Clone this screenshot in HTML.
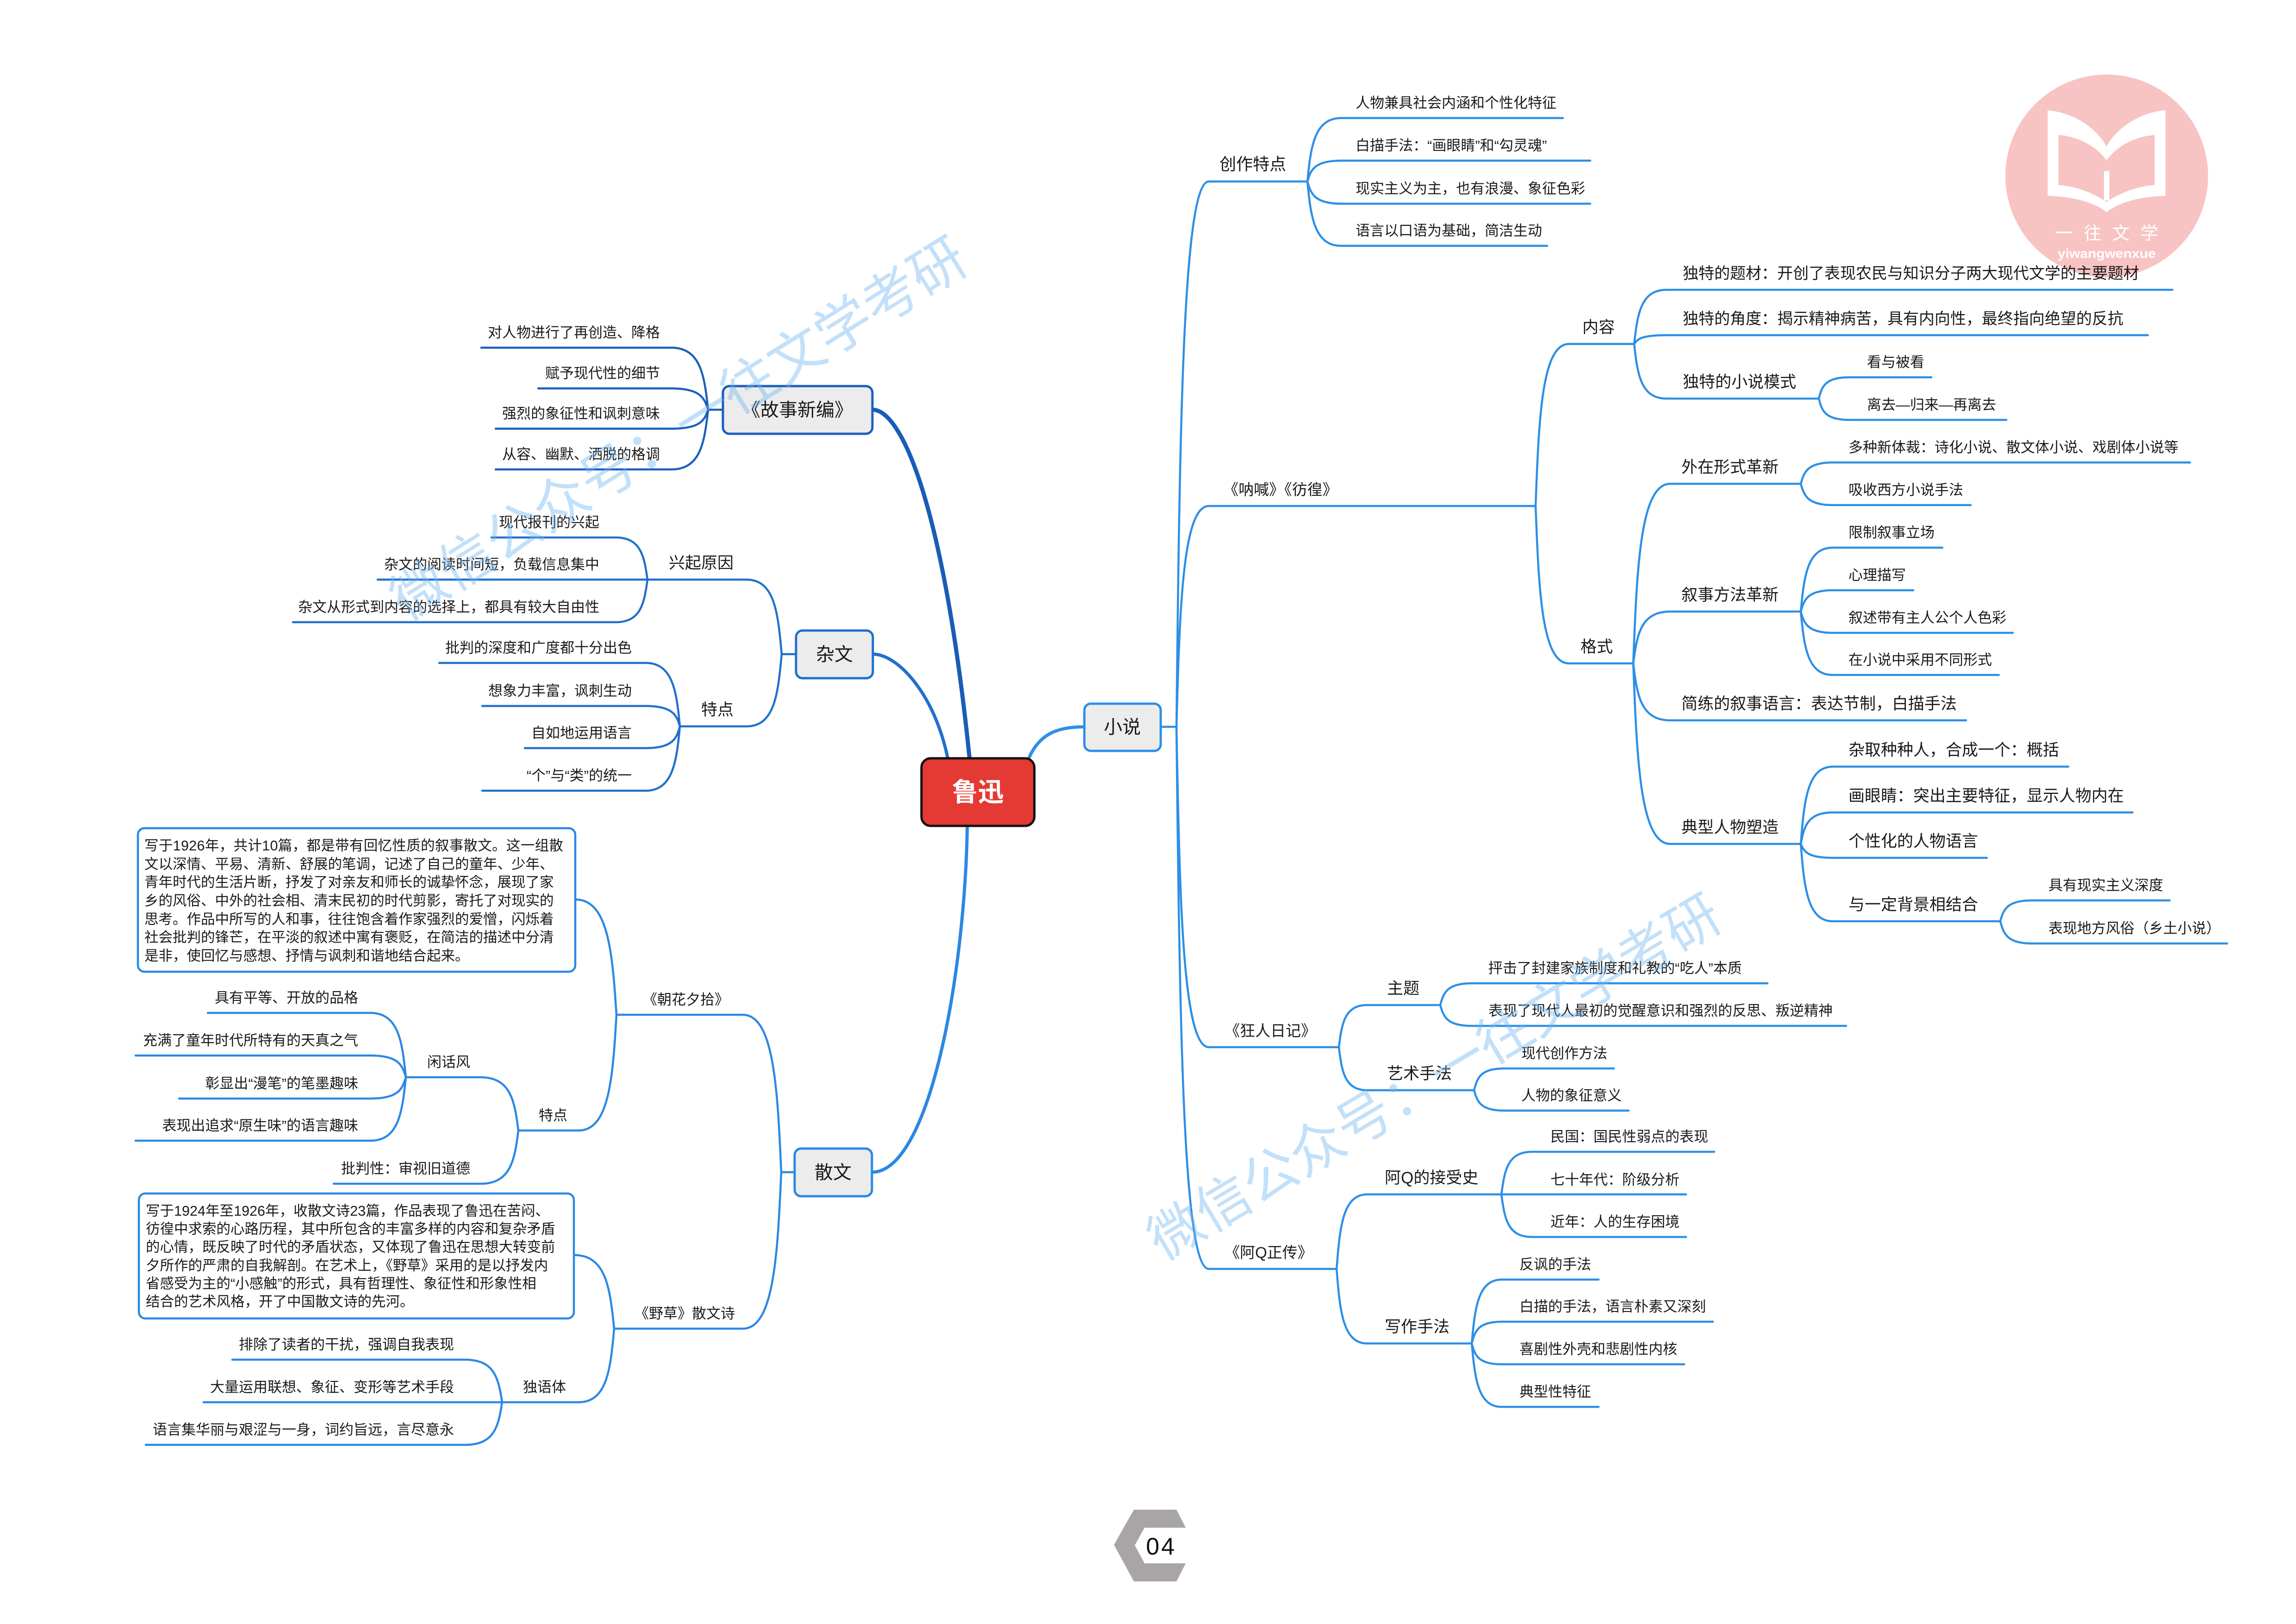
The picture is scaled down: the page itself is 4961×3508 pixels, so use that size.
<!DOCTYPE html>
<html>
<head>
<meta charset="utf-8">
<style>
html,body{margin:0;padding:0;background:#fff;}
svg{display:block;}
text{font-family:"Liberation Sans","Noto Sans CJK SC",sans-serif;fill:#1a1a1a;}
.s31{font-size:31px;}
.s35{font-size:35px;}
.s34{font-size:34px;}
.s33{font-size:33px;}
.s36{font-size:36px;}
.p{font-size:30.5px;}
.e{text-anchor:end;}
.m{text-anchor:middle;dominant-baseline:central;}
.ln{fill:none;stroke-linecap:round;stroke-linejoin:round;}
</style>
</head>
<body>
<svg width="4961" height="3508" viewBox="0 0 4961 3508" xmlns="http://www.w3.org/2000/svg">
<rect width="4961" height="3508" fill="#ffffff"/>

<!-- Logo -->
<circle cx="4552" cy="380" r="219" fill="#f8c3c3"/>
<g transform="translate(4311,143) scale(0.3333)" fill="#ffffff">
  <path d="M340,285 C500,300 650,390 722,520 L722,610 C650,510 530,455 410,445 L410,770 C540,780 650,830 722,880 L722,945 C630,875 490,845 340,840 Z"/>
  <path d="M1104,285 C944,300 794,390 722,520 L722,610 C794,510 914,455 1034,445 L1034,770 C904,780 794,830 722,880 L722,945 C814,875 954,845 1104,840 Z"/>
  <rect x="705" y="680" width="35" height="190"/>
</g>
<text x="4552" y="517" text-anchor="middle" style="font-size:38px;fill:#ffffff;" textLength="222" lengthAdjust="spacing">一往文学</text>
<text x="4552" y="557" text-anchor="middle" style="font-size:28px;font-weight:bold;fill:#ffffff;" textLength="212" lengthAdjust="spacingAndGlyphs">yiwangwenxue</text>

<!-- ===== Central connectors ===== -->
<path class="ln" d="M1885 885 C1950 885 2040 1100 2095 1639" stroke="#1a5cb8" stroke-width="9"/>
<path class="ln" d="M1886 1413 C1940 1413 2020 1500 2048 1639" stroke="#2170cc" stroke-width="7"/>
<path class="ln" d="M2090 1785 C2085 2100 2010 2532 1884 2532" stroke="#2b88e4" stroke-width="7"/>
<path class="ln" d="M2222 1640 C2245 1585 2285 1570 2343 1570" stroke="#2d8fe6" stroke-width="7"/>

<!-- ===== Right: 小说 subtree ===== -->
<g class="ln" stroke="#2d8fe6" stroke-width="4.5">
  <path d="M2508 1570 H2542"/>
  <path d="M2542 1570 c7 -648 14 -1178 70 -1178 H2825"/>
  <path d="M2542 1570 c7 -262 14 -477 70 -477 H3318"/>
  <path d="M2542 1570 c7 381 14 692 70 692 H2893"/>
  <path d="M2542 1570 c7 644 14 1171 70 1171 H2888"/>
  <!-- 创作特点 kids -->
  <path d="M2825 392 c7 -75 15 -137 73 -137 H3377"/>
  <path d="M2825 392 c7 -25 15 -45 73 -45 H3436"/>
  <path d="M2825 392 c7 26 15 48 73 48 H3436"/>
  <path d="M2825 392 c7 76 15 139 73 139 H3343"/>
  <!-- 呐喊 kids -->
  <path d="M3318 1093 c7 -193 14 -350 72 -350 H3531"/>
  <path d="M3318 1093 c7 187 14 340 72 340 H3529"/>
  <!-- 内容 kids -->
  <path d="M3531 743 c7 -64 14 -117 70 -117 H4694"/>
  <path d="M3531 743 c7 -10 14 -19 70 -19 H4641"/>
  <path d="M3531 743 c7 65 14 118 70 118 H3930"/>
  <path d="M3930 861 c6 -25 13 -46 65 -46 H4173"/>
  <path d="M3930 861 c6 25 13 46 65 46 H4335"/>
  <!-- 格式 kids -->
  <path d="M3529 1433 c8 -213 16 -388 80 -388 H3891"/>
  <path d="M3529 1433 c8 -62 16 -112 80 -112 H3891"/>
  <path d="M3529 1433 c8 68 16 123 80 123 H4248"/>
  <path d="M3529 1433 c8 215 16 390 80 390 H3891"/>
  <path d="M3891 1045 c7 -25 14 -46 69 -46 H4732"/>
  <path d="M3891 1045 c7 25 14 46 69 46 H4258"/>
  <path d="M3891 1321 c7 -76 14 -138 69 -138 H4197"/>
  <path d="M3891 1321 c7 -25 14 -46 69 -46 H4134"/>
  <path d="M3891 1321 c7 25 14 46 69 46 H4349"/>
  <path d="M3891 1321 c7 75 14 137 69 137 H4319"/>
  <path d="M3891 1823 c7 -92 14 -167 69 -167 H4469"/>
  <path d="M3891 1823 c7 -37 14 -68 69 -68 H4608"/>
  <path d="M3891 1823 c7 16 14 30 69 30 H4293"/>
  <path d="M3891 1823 c7 92 14 167 69 167 H4322"/>
  <path d="M4322 1990 c7 -25 14 -45 68 -45 H4688"/>
  <path d="M4322 1990 c7 26 14 48 68 48 H4812"/>
  <!-- 狂人日记 kids -->
  <path d="M2893 2262 c6 -50 12 -91 61 -91 H3112"/>
  <path d="M2893 2262 c6 51 12 93 61 93 H3185"/>
  <path d="M3112 2171 c7 -26 14 -47 68 -47 H3819"/>
  <path d="M3112 2171 c7 25 14 45 68 45 H3989"/>
  <path d="M3185 2355 c7 -26 13 -47 65 -47 H3487"/>
  <path d="M3185 2355 c7 24 13 44 65 44 H3519"/>
  <!-- 阿Q kids -->
  <path d="M2888 2741 c7 -89 13 -161 66 -161 H3244"/>
  <path d="M2888 2741 c7 89 13 161 66 161 H3180"/>
  <path d="M3244 2580 c7 -51 13 -92 66 -92 H3704"/>
  <path d="M3244 2580 H3643"/>
  <path d="M3244 2580 c7 51 13 92 66 92 H3643"/>
  <path d="M3180 2902 c7 -76 13 -138 65 -138 H3454"/>
  <path d="M3180 2902 c7 -26 13 -47 65 -47 H3701"/>
  <path d="M3180 2902 c7 25 13 45 65 45 H3639"/>
  <path d="M3180 2902 c7 75 13 137 65 137 H3454"/>
</g>

<!-- ===== Left: 故事新编 ===== -->
<g class="ln" stroke="#1b5fbd" stroke-width="4.5">
  <path d="M1562 885 H1530"/>
  <path d="M1530 885 c-8 -74 -16 -134 -80 -134 H1040"/>
  <path d="M1530 885 c-8 -25 -16 -46 -80 -46 H1163"/>
  <path d="M1530 885 c-8 23 -16 41 -80 41 H1071"/>
  <path d="M1530 885 c-8 71 -16 129 -80 129 H1071"/>
</g>

<!-- ===== Left: 杂文 ===== -->
<g class="ln" stroke="#2170cc" stroke-width="4.5">
  <path d="M1720 1413 H1689"/>
  <path d="M1689 1413 c-8 -89 -15 -161 -76 -161 H1399"/>
  <path d="M1689 1413 c-8 86 -15 156 -76 156 H1469"/>
  <path d="M1399 1252 c-7 -50 -14 -91 -69 -91 H1062"/>
  <path d="M1399 1252 H816"/>
  <path d="M1399 1252 c-7 51 -14 92 -69 92 H633"/>
  <path d="M1469 1569 c-7 -75 -15 -137 -74 -137 H949"/>
  <path d="M1469 1569 c-7 -24 -15 -44 -74 -44 H1042"/>
  <path d="M1469 1569 c-7 26 -15 47 -74 47 H1134"/>
  <path d="M1469 1569 c-7 76 -15 139 -74 139 H1042"/>
</g>

<!-- ===== Left: 散文 ===== -->
<g class="ln" stroke="#2b88e4" stroke-width="4.5">
  <path d="M1717 2532 H1688"/>
  <path d="M1688 2532 c-8 -187 -17 -340 -83 -340 H1332"/>
  <path d="M1688 2532 c-8 186 -17 338 -83 338 H1327"/>
  <path d="M1332 2192 c-9 -137 -18 -249 -89 -249"/>
  <path d="M1332 2192 c-8 138 -16 250 -82 250 H1120"/>
  <path d="M1120 2442 c-8 -63 -16 -115 -82 -115 H877"/>
  <path d="M1120 2442 c-8 63 -16 115 -82 115 H721"/>
  <path d="M877 2327 c-8 -76 -15 -139 -77 -139 H449"/>
  <path d="M877 2327 c-8 -26 -15 -47 -77 -47 H293"/>
  <path d="M877 2327 c-8 25 -15 46 -77 46 H387"/>
  <path d="M877 2327 c-8 75 -15 137 -77 137 H293"/>
  <path d="M1327 2870 c-9 -87 -17 -159 -87 -159"/>
  <path d="M1327 2870 c-8 87 -15 159 -77 159 H1085"/>
  <path d="M1085 3029 c-8 -51 -16 -92 -80 -92 H502"/>
  <path d="M1085 3029 H440"/>
  <path d="M1085 3029 c-8 51 -16 92 -80 92 H315"/>
</g>

<!-- paragraph boxes -->
<rect x="298" y="1789" width="945" height="310" rx="14" fill="#ffffff" stroke="#2b88e4" stroke-width="4.5"/>
<rect x="300" y="2578" width="940" height="270" rx="14" fill="#ffffff" stroke="#2b88e4" stroke-width="4.5"/>

<!-- ===== Level-1 boxes ===== -->
<rect x="1991" y="1638" width="244" height="146" rx="20" fill="#e43a33" stroke="#111111" stroke-width="5"/>
<text x="2113" y="1711" class="m" style="font-size:56px;font-weight:bold;fill:#ffffff;">鲁迅</text>

<rect x="2343" y="1520" width="165" height="102" rx="14" fill="#ececec" stroke="#2d8fe6" stroke-width="5"/>
<text x="2425" y="1571" class="m" style="font-size:40px;">小说</text>

<rect x="1562" y="834" width="323" height="103" rx="14" fill="#ececec" stroke="#1b5fbd" stroke-width="5"/>
<text x="1723" y="886" class="m" style="font-size:40px;">《故事新编》</text>

<rect x="1720" y="1362" width="166" height="103" rx="14" fill="#ececec" stroke="#2170cc" stroke-width="5"/>
<text x="1803" y="1414" class="m" style="font-size:40px;">杂文</text>

<rect x="1717" y="2481" width="167" height="103" rx="14" fill="#ececec" stroke="#2b88e4" stroke-width="5"/>
<text x="1800" y="2533" class="m" style="font-size:40px;">散文</text>

<!-- ===== Right texts ===== -->
<text x="2635" y="367" class="s36">创作特点</text>
<text x="2643" y="1069" class="s33">《呐喊》《彷徨》</text>
<text x="2646" y="2238" class="s33">《狂人日记》</text>
<text x="2646" y="2717" class="s33">《阿Q正传》</text>

<text x="2929" y="233" class="s31">人物兼具社会内涵和个性化特征</text>
<text x="2929" y="325" class="s31">白描手法：“画眼睛”和“勾灵魂”</text>
<text x="2929" y="418" class="s31">现实主义为主，也有浪漫、象征色彩</text>
<text x="2929" y="509" class="s31">语言以口语为基础，简洁生动</text>

<text x="3419" y="719" class="s35">内容</text>
<text x="3415" y="1409" class="s35">格式</text>

<text x="3636" y="602" class="s34">独特的题材：开创了表现农民与知识分子两大现代文学的主要题材</text>
<text x="3636" y="700" class="s34">独特的角度：揭示精神病苦，具有内向性，最终指向绝望的反抗</text>
<text x="3636" y="837" class="s35">独特的小说模式</text>
<text x="4034" y="793" class="s31">看与被看</text>
<text x="4034" y="885" class="s31">离去—归来—再离去</text>

<text x="3633" y="1021" class="s35">外在形式革新</text>
<text x="3633" y="1297" class="s35">叙事方法革新</text>
<text x="3633" y="1532" class="s35">简练的叙事语言：表达节制，白描手法</text>
<text x="3633" y="1799" class="s35">典型人物塑造</text>

<text x="3994" y="977" class="s31">多种新体裁：诗化小说、散文体小说、戏剧体小说等</text>
<text x="3994" y="1069" class="s31">吸收西方小说手法</text>
<text x="3994" y="1161" class="s31">限制叙事立场</text>
<text x="3994" y="1253" class="s31">心理描写</text>
<text x="3994" y="1345" class="s31">叙述带有主人公个人色彩</text>
<text x="3994" y="1436" class="s31">在小说中采用不同形式</text>
<text x="3994" y="1632" class="s35">杂取种种人，合成一个：概括</text>
<text x="3994" y="1731" class="s35">画眼睛：突出主要特征，显示人物内在</text>
<text x="3994" y="1829" class="s35">个性化的人物语言</text>
<text x="3994" y="1966" class="s35">与一定背景相结合</text>
<text x="4426" y="1923" class="s31">具有现实主义深度</text>
<text x="4426" y="2016" class="s31">表现地方风俗（乡土小说）</text>

<text x="2997" y="2147" class="s35">主题</text>
<text x="2997" y="2331" class="s35">艺术手法</text>
<text x="3216" y="2102" class="s31">抨击了封建家族制度和礼教的“吃人”本质</text>
<text x="3216" y="2194" class="s31">表现了现代人最初的觉醒意识和强烈的反思、叛逆精神</text>
<text x="3287" y="2286" class="s31">现代创作方法</text>
<text x="3287" y="2377" class="s31">人物的象征意义</text>

<text x="2992" y="2556" class="s35">阿Q的接受史</text>
<text x="2992" y="2878" class="s35">写作手法</text>
<text x="3350" y="2466" class="s31">民国：国民性弱点的表现</text>
<text x="3350" y="2559" class="s31">七十年代：阶级分析</text>
<text x="3350" y="2650" class="s31">近年：人的生存困境</text>
<text x="3283" y="2742" class="s31">反讽的手法</text>
<text x="3283" y="2833" class="s31">白描的手法，语言朴素又深刻</text>
<text x="3283" y="2925" class="s31">喜剧性外壳和悲剧性内核</text>
<text x="3283" y="3017" class="s31">典型性特征</text>

<!-- ===== Left texts ===== -->
<text x="1426" y="729" class="s31 e">对人物进行了再创造、降格</text>
<text x="1426" y="817" class="s31 e">赋予现代性的细节</text>
<text x="1426" y="904" class="s31 e">强烈的象征性和讽刺意味</text>
<text x="1426" y="992" class="s31 e">从容、幽默、洒脱的格调</text>

<text x="1585" y="1228" class="s35 e">兴起原因</text>
<text x="1585" y="1545" class="s35 e">特点</text>
<text x="1295" y="1139" class="s31 e">现代报刊的兴起</text>
<text x="1295" y="1230" class="s31 e">杂文的阅读时间短，负载信息集中</text>
<text x="1295" y="1322" class="s31 e">杂文从形式到内容的选择上，都具有较大自由性</text>
<text x="1365" y="1410" class="s31 e">批判的深度和广度都十分出色</text>
<text x="1365" y="1503" class="s31 e">想象力丰富，讽刺生动</text>
<text x="1365" y="1594" class="s31 e">自如地运用语言</text>
<text x="1365" y="1686" class="s31 e">“个”与“类”的统一</text>

<text x="1575" y="2170" class="s31 e">《朝花夕拾》</text>
<text x="1588" y="2848" class="s31 e">《野草》散文诗</text>
<text x="1226" y="2420" class="s31 e">特点</text>
<text x="1016" y="2305" class="s31 e">闲话风</text>
<text x="1016" y="2535" class="s31 e">批判性：审视旧道德</text>
<text x="774" y="2166" class="s31 e">具有平等、开放的品格</text>
<text x="774" y="2258" class="s31 e">充满了童年时代所特有的天真之气</text>
<text x="774" y="2351" class="s31 e">彰显出“漫笔”的笔墨趣味</text>
<text x="774" y="2442" class="s31 e">表现出追求“原生味”的语言趣味</text>
<text x="1223" y="3007" class="s31 e">独语体</text>
<text x="981" y="2915" class="s31 e">排除了读者的干扰，强调自我表现</text>
<text x="981" y="3007" class="s31 e">大量运用联想、象征、变形等艺术手段</text>
<text x="981" y="3099" class="s31 e">语言集华丽与艰涩与一身，词约旨远，言尽意永</text>

<!-- paragraph 1 -->
<text x="312" y="1837" class="p" textLength="905" lengthAdjust="spacing">写于1926年，共计10篇，都是带有回忆性质的叙事散文。这一组散</text>
<text x="312" y="1877" class="p">文以深情、平易、清新、舒展的笔调，记述了自己的童年、少年、</text>
<text x="312" y="1916" class="p">青年时代的生活片断，抒发了对亲友和师长的诚挚怀念，展现了家</text>
<text x="312" y="1956" class="p">乡的风俗、中外的社会相、清末民初的时代剪影，寄托了对现实的</text>
<text x="312" y="1996" class="p">思考。作品中所写的人和事，往往饱含着作家强烈的爱憎，闪烁着</text>
<text x="312" y="2035" class="p">社会批判的锋芒，在平淡的叙述中寓有褒贬，在简洁的描述中分清</text>
<text x="312" y="2075" class="p">是非，使回忆与感想、抒情与讽刺和谐地结合起来。</text>

<!-- paragraph 2 -->
<text x="315" y="2626" class="p" textLength="872" lengthAdjust="spacing">写于1924年至1926年，收散文诗23篇，作品表现了鲁迅在苦闷、</text>
<text x="315" y="2665" class="p">彷徨中求索的心路历程，其中所包含的丰富多样的内容和复杂矛盾</text>
<text x="315" y="2704" class="p">的心情，既反映了时代的矛盾状态，又体现了鲁迅在思想大转变前</text>
<text x="315" y="2744" class="p">夕所作的严肃的自我解剖。在艺术上，《野草》采用的是以抒发内</text>
<text x="315" y="2783" class="p">省感受为主的“小感触”的形式，具有哲理性、象征性和形象性相</text>
<text x="315" y="2822" class="p">结合的艺术风格，开了中国散文诗的先河。</text>

<!-- watermarks -->
<text x="1467" y="927" class="m" transform="rotate(-32 1467 927)" style="font-size:120px;fill:rgba(110,180,240,0.42);">微信公众号：一往文学考研</text>
<text x="3100" y="2328" class="m" transform="rotate(-30.8 3100 2328)" style="font-size:118px;fill:rgba(110,180,240,0.42);">微信公众号：一往文学考研</text>

<!-- footer page mark -->
<polygon points="2407,3337 2450,3261 2542,3261 2562,3300 2473,3300 2452,3338 2473,3377 2562,3377 2542,3416 2450,3416" fill="#a9a5a6"/>
<text x="2509" y="3358" text-anchor="middle" style="font-size:52px;fill:#111111;" letter-spacing="4">04</text>
</svg>
</body>
</html>
